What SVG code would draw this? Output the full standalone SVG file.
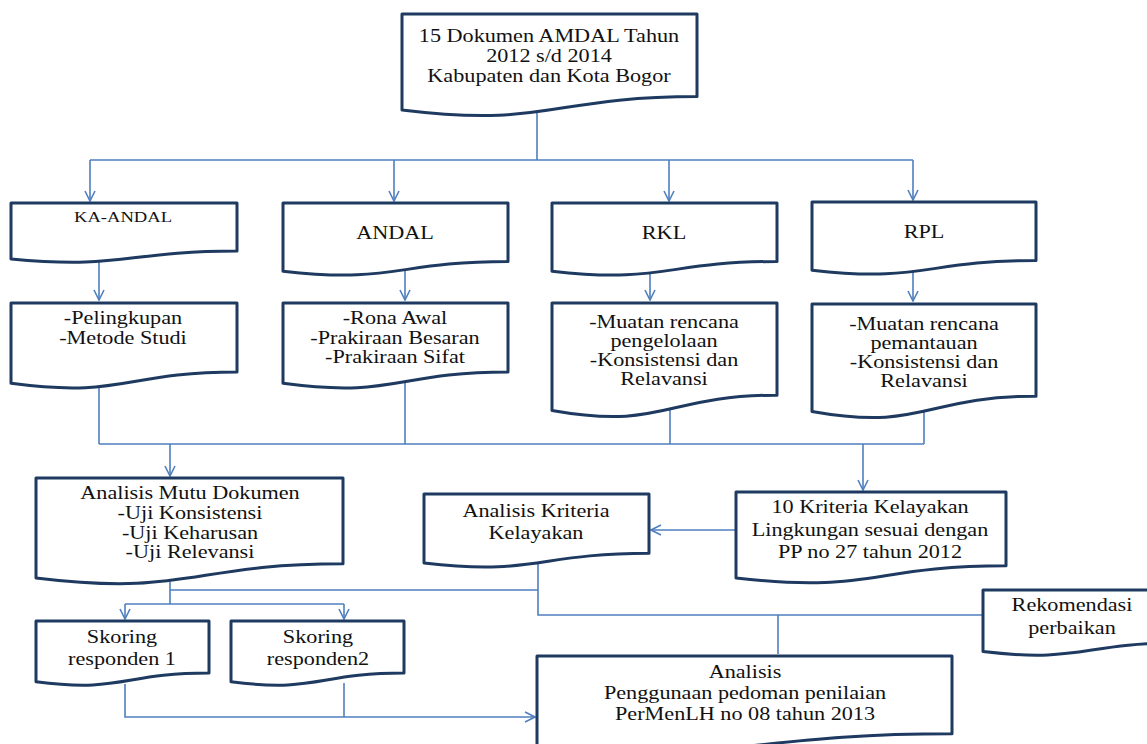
<svg xmlns="http://www.w3.org/2000/svg" width="1147" height="744" viewBox="0 0 1147 744">
<style>
.box{fill:#fff;stroke:#1f3a60;stroke-width:3;stroke-linejoin:round}
.c{fill:none;stroke:#4f7fbe;stroke-width:1.6}
text{font-family:'Liberation Serif','Times New Roman','DejaVu Serif',serif;font-size:18.5px;fill:#111;text-anchor:middle}
.s{font-size:15.5px}
</style>
<defs>
<marker id="a" viewBox="0 0 12 12" refX="11" refY="6" markerWidth="12" markerHeight="12" markerUnits="userSpaceOnUse" orient="auto">
<path d="M1,1 L11,6 L1,11" fill="none" stroke="#4f7fbe" stroke-width="1.6"/>
</marker>
</defs>
<rect width="1147" height="744" fill="#fff"/>
<g id="connectors">
<path class="c" d="M537,113 V160 M90,160 H913"/>
<path class="c" marker-end="url(#a)" d="M90,160 V201"/>
<path class="c" marker-end="url(#a)" d="M394,160 V201"/>
<path class="c" marker-end="url(#a)" d="M669,160 V201"/>
<path class="c" marker-end="url(#a)" d="M913,160 V200"/>
<path class="c" marker-end="url(#a)" d="M99,259 V300"/>
<path class="c" marker-end="url(#a)" d="M405,271 V300"/>
<path class="c" marker-end="url(#a)" d="M650,271 V300"/>
<path class="c" marker-end="url(#a)" d="M913,271 V301"/>
<path class="c" d="M99,383 V444 M405,383 V444 M670,408 V444 M924,410 V444 M99,444 H924"/>
<path class="c" marker-end="url(#a)" d="M170,444 V476"/>
<path class="c" marker-end="url(#a)" d="M863,444 V490"/>
<path class="c" marker-end="url(#a)" d="M736,530 H651"/>
<path class="c" d="M170,582 V604 M170,590 H538 M538,563 V615 H983 M778,615 V654"/>
<path class="c" d="M125,604 H344"/>
<path class="c" marker-end="url(#a)" d="M125,604 V619"/>
<path class="c" marker-end="url(#a)" d="M344,604 V619"/>
<path class="c" d="M344,683 V717"/>
<path class="c" marker-end="url(#a)" d="M125,684 V717 H535"/>
</g>
<g id="n_top">
<path class="box" d="M402,14 H697 V96.6 C549.5,96.6 549.5,128 402,110 Z"/>
<text transform="translate(549,0) scale(1.2,1)" y="42">15 Dokumen AMDAL Tahun</text>
<text transform="translate(549,0) scale(1.2,1)" y="62">2012 s/d 2014</text>
<text transform="translate(549,0) scale(1.2,1)" y="82">Kabupaten dan Kota Bogor</text>
</g>
<g id="n_kaandal">
<path class="box" d="M11,203 H237 V251.1 C124,251.1 124,269.5 11,259 Z"/>
<text class="s" transform="translate(123,0) scale(1.2,1)" y="222">KA-ANDAL</text>
</g>
<g id="n_andal">
<path class="box" d="M283,203 H508 V261.5 C395.5,261.5 395.5,283.9 283,271.2 Z"/>
<text transform="translate(395,0) scale(1.2,1)" y="239">ANDAL</text>
</g>
<g id="n_rkl">
<path class="box" d="M552,203 H777 V261.5 C664.5,261.5 664.5,283.9 552,271.2 Z"/>
<text transform="translate(664,0) scale(1.2,1)" y="239">RKL</text>
</g>
<g id="n_rpl">
<path class="box" d="M812,202 H1036 V260.5 C924,260.5 924,282.9 812,270.2 Z"/>
<text transform="translate(924,0) scale(1.2,1)" y="238">RPL</text>
</g>
<g id="n_pelingkupan">
<path class="box" d="M11,303 H237 V372 C124,372 124,398.3 11,383.3 Z"/>
<text transform="translate(123,0) scale(1.2,1)" y="324">-Pelingkupan</text>
<text transform="translate(123,0) scale(1.2,1)" y="344">-Metode Studi</text>
</g>
<g id="n_rona">
<path class="box" d="M283,303 H508 V372 C395.5,372 395.5,398.3 283,383.3 Z"/>
<text transform="translate(395,0) scale(1.2,1)" y="324">-Rona Awal</text>
<text transform="translate(395,0) scale(1.2,1)" y="344">-Prakiraan Besaran</text>
<text transform="translate(395,0) scale(1.2,1)" y="363">-Prakiraan Sifat</text>
</g>
<g id="n_rkl2">
<path class="box" d="M552,303 H777 V395.2 C664.5,395.2 664.5,430.4 552,410.4 Z"/>
<text transform="translate(664,0) scale(1.2,1)" y="328">-Muatan rencana</text>
<text transform="translate(664,0) scale(1.2,1)" y="347">pengelolaan</text>
<text transform="translate(664,0) scale(1.2,1)" y="366">-Konsistensi dan</text>
<text transform="translate(664,0) scale(1.2,1)" y="385">Relavansi</text>
</g>
<g id="n_rpl2">
<path class="box" d="M812,304 H1036 V396.2 C924,396.2 924,431.4 812,411.4 Z"/>
<text transform="translate(924,0) scale(1.2,1)" y="330">-Muatan rencana</text>
<text transform="translate(924,0) scale(1.2,1)" y="349">pemantauan</text>
<text transform="translate(924,0) scale(1.2,1)" y="368">-Konsistensi dan</text>
<text transform="translate(924,0) scale(1.2,1)" y="387">Relavansi</text>
</g>
<g id="n_mutu">
<path class="box" d="M36,478 H343 V563.8 C189.5,563.8 189.5,596.6 36,577.9 Z"/>
<text transform="translate(190,0) scale(1.2,1)" y="499">Analisis Mutu Dokumen</text>
<text transform="translate(190,0) scale(1.2,1)" y="519">-Uji Konsistensi</text>
<text transform="translate(190,0) scale(1.2,1)" y="539">-Uji Keharusan</text>
<text transform="translate(190,0) scale(1.2,1)" y="558">-Uji Relevansi</text>
</g>
<g id="n_kriteria">
<path class="box" d="M424,494 H649 V553.3 C536.5,553.3 536.5,576 424,563.1 Z"/>
<text transform="translate(536,0) scale(1.2,1)" y="517">Analisis Kriteria</text>
<text transform="translate(536,0) scale(1.2,1)" y="539">Kelayakan</text>
</g>
<g id="n_10kriteria">
<path class="box" d="M736,492 H1006 V565.8 C871,565.8 871,593.9 736,577.9 Z"/>
<text transform="translate(870,0) scale(1.2,1)" y="513">10 Kriteria Kelayakan</text>
<text transform="translate(870,0) scale(1.2,1)" y="536">Lingkungan sesuai dengan</text>
<text transform="translate(870,0) scale(1.2,1)" y="558">PP no 27 tahun 2012</text>
</g>
<g id="n_skor1">
<path class="box" d="M36,621 H209 V673.1 C122.5,673.1 122.5,693 36,681.7 Z"/>
<text transform="translate(122,0) scale(1.2,1)" y="643">Skoring</text>
<text transform="translate(122,0) scale(1.2,1)" y="665">responden 1</text>
</g>
<g id="n_skor2">
<path class="box" d="M231,621 H404 V673.1 C317.5,673.1 317.5,693 231,681.7 Z"/>
<text transform="translate(318,0) scale(1.2,1)" y="643">Skoring</text>
<text transform="translate(318,0) scale(1.2,1)" y="665">responden2</text>
</g>
<g id="n_rekomendasi">
<path class="box" d="M983,590 H1180 V643 C1081.5,643 1081.5,663.2 983,651.6 Z"/>
<text transform="translate(1072,0) scale(1.2,1)" y="611">Rekomendasi</text>
<text transform="translate(1072,0) scale(1.2,1)" y="634">perbaikan</text>
</g>
<g id="n_penggunaan">
<path class="box" d="M537,656 H952 V733.8 C744.5,733.8 744.5,763.5 537,746.6 Z"/>
<text transform="translate(745,0) scale(1.2,1)" y="678">Analisis</text>
<text transform="translate(745,0) scale(1.2,1)" y="699">Penggunaan pedoman penilaian</text>
<text transform="translate(745,0) scale(1.2,1)" y="720">PerMenLH no 08 tahun 2013</text>
</g>
</svg>
